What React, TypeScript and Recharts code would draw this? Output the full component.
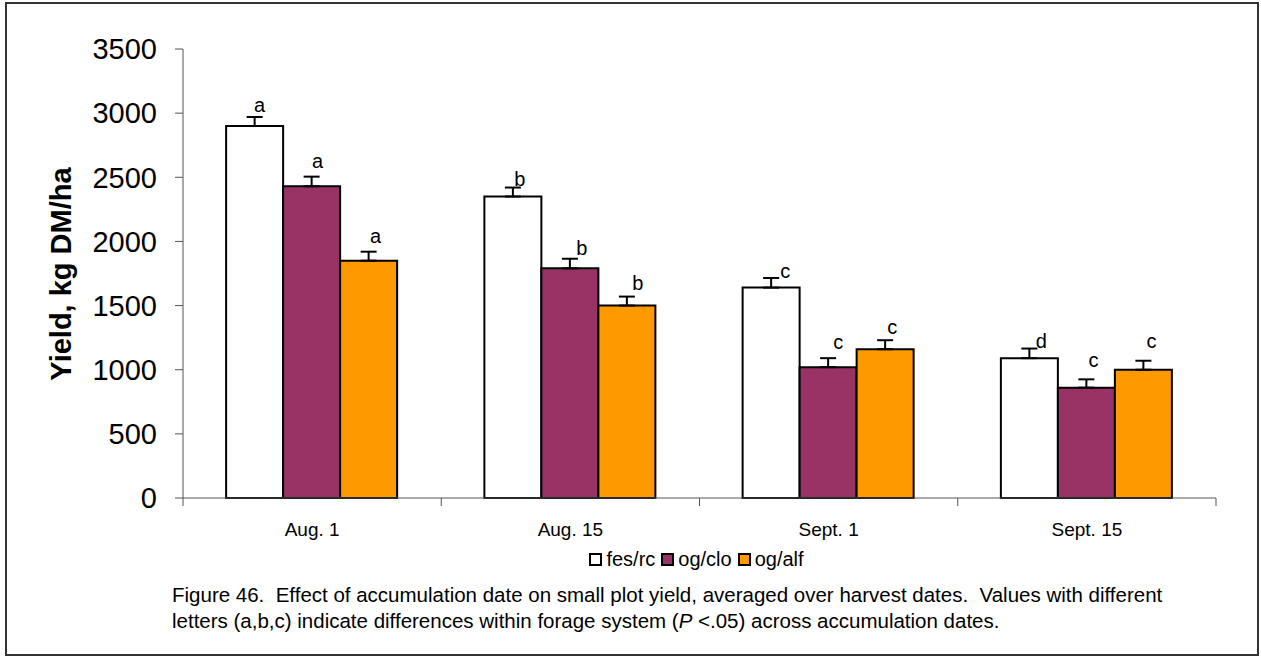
import React from 'react'
import { Bar, BarChart, ErrorBar, LabelList, Legend, XAxis, YAxis, Label } from 'recharts'

const categories = ['Aug. 1', 'Aug. 15', 'Sept. 1', 'Sept. 15']
const fesRc = [2900, 2350, 1640, 1090]
const ogClo = [2430, 1790, 1020, 860]
const ogAlf = [1850, 1500, 1160, 1000]
const fesRcErr = [70, 70, 75, 75]
const ogCloErr = [75, 75, 70, 65]
const ogAlfErr = [70, 70, 70, 70]
const fesRcLetters = ['a', 'b', 'c', 'd']
const ogCloLetters = ['a', 'b', 'c', 'c']
const ogAlfLetters = ['a', 'b', 'c', 'c']
const yTicks = [0, 500, 1000, 1500, 2000, 2500, 3000, 3500]

const FONT = '"Liberation Sans", Arial, sans-serif'

// where each significance letter sits relative to its error cap (dx, dy)
const letterOffsets: Record<string, [number, number][]> = {
  fes: [[5, -12], [7, -9], [14, -7], [12, -8]],
  clo: [[6, -16], [12, -11], [10, -16], [7, -19]],
  alf: [[7, -16], [11, -14], [7, -13], [8, -20]],
}

const series = [
  { key: 'fes', name: 'fes/rc', fill: '#ffffff', values: fesRc, errs: fesRcErr, letters: fesRcLetters },
  { key: 'clo', name: 'og/clo', fill: '#993366', values: ogClo, errs: ogCloErr, letters: ogCloLetters },
  { key: 'alf', name: 'og/alf', fill: '#ff9900', values: ogAlf, errs: ogAlfErr, letters: ogAlfLetters },
]

const data = categories.map((c, i) => {
  const row: Record<string, any> = { date: c }
  series.forEach((s) => {
    row[s.key] = s.values[i]
    row[s.key + 'Err'] = [0, s.errs[i]]
  })
  return row
})

function letterContent(s: (typeof series)[number]) {
  return (props: any) => {
    const { x, y, width, height, index } = props
    if (index == null || height == null) return null
    const pxPerUnit = Number(height) / s.values[index]
    const capY = Number(y) - s.errs[index] * pxPerUnit
    const [dx, dy] = letterOffsets[s.key][index]
    return (
      <text
        x={Number(x) + Number(width) / 2 + dx}
        y={capY + dy}
        textAnchor="middle"
        dominantBaseline="central"
        fontFamily={FONT}
        fontSize={20}
        fill="#000"
      >
        {s.letters[index]}
      </text>
    )
  }
}

function DateTick(props: any) {
  const { x, y, payload, index, visibleTicksCount } = props
  const half = payload?.offset ?? 129
  const axisY = y - 24
  return (
    <g>
      <line x1={x - half} y1={axisY} x2={x - half} y2={axisY + 8} stroke="#555" />
      {index === visibleTicksCount - 1 && (
        <line x1={x + half} y1={axisY} x2={x + half} y2={axisY + 8} stroke="#555" />
      )}
      <text x={x} y={y + 14} textAnchor="middle" fontFamily={FONT} fontSize={19} fill="#000">
        {payload.value}
      </text>
    </g>
  )
}

function LegendBox() {
  return (
    <div style={{ display: 'flex', justifyContent: 'center', fontFamily: FONT, fontSize: 20, color: '#000' }}>
      {series.map((s) => (
        <span key={s.key} style={{ display: 'flex', alignItems: 'center', marginRight: 6 }}>
          <span
            style={{
              width: 9,
              height: 9,
              background: s.fill,
              border: '2px solid #000',
              marginRight: 4,
              display: 'inline-block',
            }}
          />
          {s.name}
        </span>
      ))}
    </div>
  )
}

export default function App() {
  return (
    <div style={{ position: 'absolute', left: 0, top: 0, width: 1261, height: 661, background: '#fff' }}>
      <div
        style={{
          position: 'absolute',
          left: 5,
          top: 2,
          width: 1250,
          height: 650,
          border: '2px solid #333',
        }}
      />
      <div style={{ position: 'absolute', left: 0, top: 0 }}>
        <BarChart
          width={1261}
          height={600}
          data={data}
          margin={{ top: 49, right: 45, left: 10, bottom: 39 }}
          barGap={0}
          barCategoryGap="16.7%"
        >
          <XAxis
            dataKey="date"
            height={40}
            axisLine={{ stroke: '#555' }}
            tickLine={false}
            tickSize={8}
            tickMargin={16}
            tick={<DateTick />}
            interval={0}
          />
          <YAxis
            width={173}
            domain={[0, 3500]}
            ticks={yTicks}
            axisLine={{ stroke: '#555' }}
            tickLine={{ stroke: '#555' }}
            tickSize={8}
            tickMargin={18}
            tick={{ fontFamily: FONT, fontSize: 29, fill: '#000' }}
            interval={0}
          >
            <Label
              content={() => (
                <text
                  x={61}
                  y={274}
                  transform="rotate(-90 61 274)"
                  textAnchor="middle"
                  dominantBaseline="central"
                  fontFamily={FONT}
                  fontSize={29}
                  fontWeight="bold"
                  fill="#000"
                >
                  Yield, kg DM/ha
                </text>
              )}
            />
          </YAxis>
          <Legend
            verticalAlign="bottom"
            content={<LegendBox />}
            wrapperStyle={{ top: 548, left: 183, width: 1033, bottom: 'auto' }}
          />
          {series.map((s) => (
            <Bar
              key={s.key}
              dataKey={s.key}
              name={s.name}
              fill={s.fill}
              stroke="#000"
              strokeWidth={2}
              isAnimationActive={false}
            >
              <ErrorBar dataKey={s.key + 'Err'} direction="y" width={8} stroke="#000" strokeWidth={2} />
              <LabelList dataKey={s.key} content={letterContent(s)} />
            </Bar>
          ))}
        </BarChart>
      </div>
      <div
        style={{
          position: 'absolute',
          left: 172,
          top: 582,
          fontFamily: FONT,
          fontSize: 20.5,
          lineHeight: '26px',
          color: '#000',
          whiteSpace: 'nowrap',
        }}
      >
        Figure 46.&nbsp; Effect of accumulation date on small plot yield, averaged over harvest dates.&nbsp; Values with different
        <br />
        letters (a,b,c) indicate differences within forage system (<i>P</i> &lt;.05) across accumulation dates.
      </div>
    </div>
  )
}
